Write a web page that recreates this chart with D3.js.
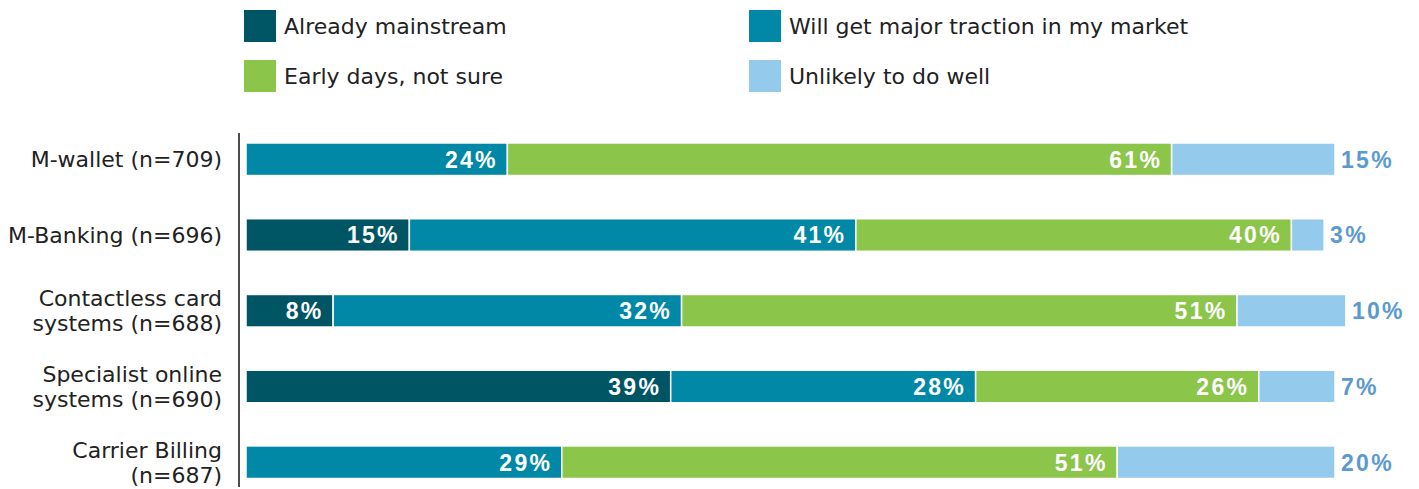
<!DOCTYPE html>
<html>
<head>
<meta charset="utf-8">
<script src="https://cdn.jsdelivr.net/npm/d3@7"></script>
<style>
  html, body { margin: 0; padding: 0; background: #fff; }
  svg { display: block; }
  text { font-family: "Liberation Sans", Arial, sans-serif; }
  .lbl { font-family: "DejaVu Sans", "Liberation Sans", sans-serif; }
</style>
</head>
<body>
<svg id="chart" width="1419" height="489"></svg>
<script>
// Survey responses per payment method (percent of respondents)
const categories = [
  ["M-wallet (n=709)"],
  ["M-Banking (n=696)"],
  ["Contactless card", "systems (n=688)"],
  ["Specialist online", "systems (n=690)"],
  ["Carrier Billing", "(n=687)"]
];
const seriesNames = ["Already mainstream", "Will get major traction in my market", "Early days, not sure", "Unlikely to do well"];
const mainstream = [0, 15, 8, 39, 0];
const traction   = [24, 41, 32, 28, 29];
const earlyDays  = [61, 40, 51, 26, 51];
const unlikely   = [15, 3, 10, 7, 20];

const colors = ["#005565", "#0088a6", "#8bc54a", "#94caec"];
const outsideLabelColor = "#5b99cf";

const svg = d3.select("#chart");
const keys = categories.map(c => c.join(" "));
const series = [mainstream, traction, earlyDays, unlikely];

const x = d3.scaleLinear().domain([0, 100]).range([246, 1335]);
const y = d3.scaleBand().domain(keys).range([121.4, 500.1]).paddingInner(0.57).paddingOuter(0.285);

// stacked rows
const rows = keys.map((k, i) => {
  let acc = 0;
  return series.map((s, j) => {
    const seg = { key: k, idx: j, v: s[i], x0: acc, x1: acc + s[i] };
    acc += s[i];
    return seg;
  });
});

const g = svg.append("g");
rows.forEach(row => {
  const rg = g.append("g");
  rg.selectAll("rect")
    .data(row.filter(d => d.v > 0))
    .join("rect")
    .attr("x", d => x(d.x0))
    .attr("y", d => y(d.key))
    .attr("width", d => x(d.x1) - x(d.x0))
    .attr("height", y.bandwidth())
    .attr("fill", d => colors[d.idx])
    .attr("stroke", "#fff")
    .attr("stroke-width", 1.5);

  rg.selectAll("text")
    .data(row.filter(d => d.v > 0))
    .join("text")
    .attr("x", d => d.idx === 3 ? x(d.x1) + 6 : x(d.x1) - 9.5)
    .attr("y", d => y(d.key) + y.bandwidth() / 2)
    .attr("dy", "0.36em")
    .attr("text-anchor", d => d.idx === 3 ? "start" : "end")
    .attr("fill", d => d.idx === 3 ? outsideLabelColor : "#fff")
    .style("font-size", "23px")
    .style("font-weight", "bold")
    .style("letter-spacing", "2.3px")
    .text(d => d.v + "%");
});

// category axis (left)
const axis = d3.axisLeft(y).tickSize(0).tickFormat("");
const ag = svg.append("g").attr("transform", "translate(239,0)").call(axis);
ag.select(".domain").remove();
svg.append("line")
  .attr("x1", 239).attr("x2", 239)
  .attr("y1", 133).attr("y2", 487)
  .attr("stroke", "#111").attr("stroke-width", 1.5);

categories.forEach((lines, i) => {
  const cy = y(keys[i]) + y.bandwidth() / 2;
  const lh = 25;
  const t = svg.append("text")
    .attr("class", "lbl")
    .attr("text-anchor", "end")
    .attr("fill", "#222")
    .style("font-size", "22px");
  lines.forEach((ln, li) => {
    t.append("tspan")
      .attr("x", 222)
      .attr("y", cy + (li - (lines.length - 1) / 2) * lh)
      .attr("dy", "0.36em")
      .text(ln);
  });
});

// legend
const legendPos = [[244, 10], [749, 10], [244, 60], [749, 60]];
seriesNames.forEach((name, i) => {
  const [lx, ly] = legendPos[i];
  svg.append("rect")
    .attr("x", lx).attr("y", ly).attr("width", 32).attr("height", 32)
    .attr("fill", colors[i]);
  svg.append("text")
    .attr("class", "lbl")
    .attr("x", lx + 40).attr("y", ly + 16).attr("dy", "0.36em")
    .attr("fill", "#222")
    .style("font-size", "22px")
    .text(name);
});
</script>
</body>
</html>
